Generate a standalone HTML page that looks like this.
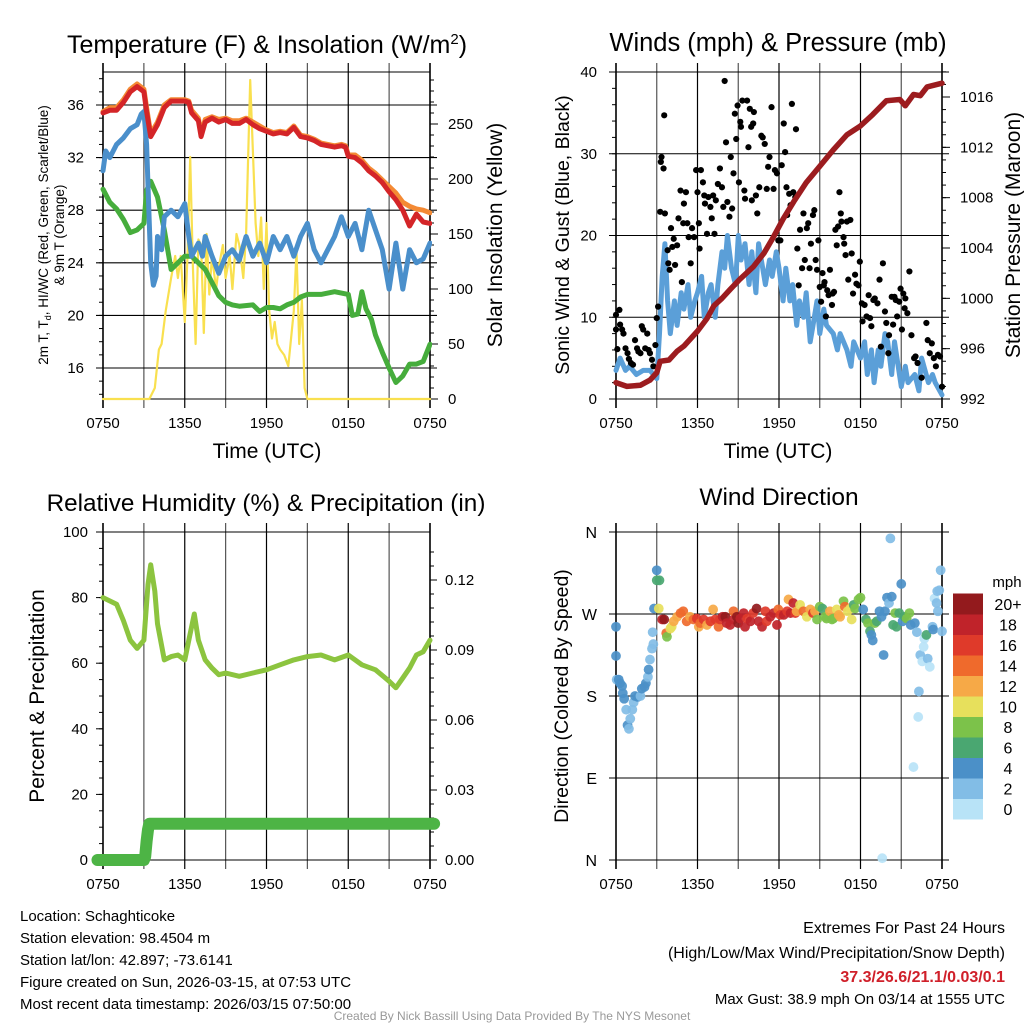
<!DOCTYPE html>
<html><head><meta charset="utf-8"><style>
html,body{margin:0;padding:0;background:#fff}
svg{display:block;font-family:"Liberation Sans",Arial,sans-serif}
</style></head><body>
<svg id="svg" width="1024" height="1024" viewBox="0 0 1024 1024" xmlns="http://www.w3.org/2000/svg">
<rect width="1024" height="1024" fill="#fff"/>
<g id="g1"></g>
<g id="g2"></g>
<g id="g3"></g>
<g id="g4"></g>
<text x="267" y="53" font-size="25" text-anchor="middle">Temperature (F) &amp; Insolation (W/m<tspan dy="-9" font-size="15">2</tspan><tspan dy="9">)</tspan></text>
<text x="778" y="51" font-size="25.5" text-anchor="middle">Winds (mph) &amp; Pressure (mb)</text>
<text x="266" y="511" font-size="24.3" text-anchor="middle">Relative Humidity (%) &amp; Precipitation (in)</text>
<text x="779" y="505" font-size="24.5" text-anchor="middle">Wind Direction</text>
<g font-size="15">
<text x="20" y="921">Location: Schaghticoke</text>
<text x="20" y="943">Station elevation: 98.4504 m</text>
<text x="20" y="965">Station lat/lon: 42.897; -73.6141</text>
<text x="20" y="987">Figure created on Sun, 2026-03-15, at 07:53 UTC</text>
<text x="20" y="1009">Most recent data timestamp: 2026/03/15 07:50:00</text>
</g>
<g font-size="16" text-anchor="end">
<text x="1005" y="933">Extremes For Past 24 Hours</text>
<text x="1005" y="958">(High/Low/Max Wind/Precipitation/Snow Depth)</text>
<text x="1005" y="982" fill="#d0202a" font-weight="bold">37.3/26.6/21.1/0.03/0.1</text>
<text x="1005" y="1004" font-size="15">Max Gust: 38.9 mph On 03/14 at 1555 UTC</text>
</g>
<text x="512" y="1020" font-size="12" fill="#999" text-anchor="middle">Created By Nick Bassill Using Data Provided By The NYS Mesonet</text>
</svg>
<script>
// ---- Temperature panel data (hours since 0750 UTC) ----
const tempHours=[0,0.5,1,1.5,2,2.5,3,3.2,3.5,4,4.5,5,6,6.3,6.5,7,7.2,7.5,8,8.5,9,9.5,10,10.5,11,11.5,12,12.5,13,13.5,14,14.5,15,15.5,16,17,17.5,17.8,18,18.5,19,19.5,20,20.5,21,21.5,22,22.5,23,23.5,24];
const tempValues=[35.4,35.6,35.6,36.2,37.0,37.4,37.0,35.5,33.6,34.5,35.8,36.3,36.3,36.2,35.4,34.8,33.6,34.7,35.0,34.7,34.9,34.6,34.6,34.9,34.5,34.2,34.0,33.8,33.9,33.8,34.3,33.6,33.5,33.3,33.0,32.8,32.9,32.8,32.1,32.0,31.6,31.0,30.6,30.1,29.4,28.8,28.0,26.8,27.7,27.1,27.0];
const temp9mValues=[35.5,35.8,35.8,36.4,37.2,37.6,37.2,35.8,33.8,34.7,36.0,36.4,36.4,36.3,35.6,35.0,33.8,34.9,35.1,34.9,35.0,34.8,34.8,35.0,34.7,34.4,34.1,33.9,34.0,33.9,34.4,33.7,33.6,33.4,33.1,32.9,33.0,32.9,32.2,32.2,31.8,31.2,30.8,30.3,29.8,29.3,28.6,28.3,28.1,28.0,27.8];
const chillHours=[0,0.2,0.5,1,1.5,2,2.5,2.8,3,3.2,3.4,3.5,3.7,3.9,4,4.3,4.5,5,5.5,6,6.3,6.5,7,7.3,7.5,8,8.5,9,9.5,10,10.5,11,11.5,12,12.5,13,13.5,14,14.5,15,15.5,16,16.5,17,17.5,18,18.5,19,19.5,20,20.5,21,21.5,22,22.5,23,23.5,24];
const chillValues=[31.0,32.5,32.0,33.0,33.5,34.2,34.5,35.3,35.5,33,27,24,22.3,23,26,25,27.5,28,27.5,28.5,26,24.5,25.5,24.5,26,24.5,23.2,24.5,25,24.2,26,24.5,25.5,24,26,25,26,24.5,26,27,25,24,25,26,27.5,26,27,25,28,26.5,25,22,25.5,22,25,24,24.3,25.5];
const dewHours=[0,0.5,1,1.5,2,2.5,3,3.2,3.5,4,4.5,5,5.5,6,6.5,7,7.5,8,8.5,9,9.5,10,11,11.5,12,12.5,13,13.5,14,14.5,15,16,17,18,18.3,18.7,19,19.3,19.7,20,20.5,21,21.5,22,22.5,23,23.5,24];
const dewValues=[29.6,28.6,28.1,27.3,26.3,26.5,27,29.5,30.2,29,26.5,23.5,24,24.5,24.5,24,23.5,22.5,21.5,21,20.8,20.7,20.8,20.3,20.6,20.6,20.5,20.8,21,21.4,21.6,21.6,21.8,21.6,20.0,20.1,21.8,20.5,19.7,18.5,17.2,16,14.9,15.4,16.3,16.3,16.5,17.8];
const solarHours=[0,3.4,3.8,4.1,4.3,4.6,5,5.3,5.5,5.7,6,6.2,6.4,6.6,6.8,7,7.2,7.4,7.6,7.8,8,8.3,8.5,8.8,9,9.3,9.5,9.8,10,10.3,10.5,10.8,11,11.2,11.4,11.6,11.8,12,12.2,12.4,12.6,12.8,13,13.3,13.6,14,14.2,14.4,14.6,14.8,15,24];
const solarValues=[0,0,10,45,50,80,110,130,110,130,70,130,220,120,50,145,140,60,150,95,130,100,120,140,110,130,100,150,140,110,150,290,225,160,130,165,100,160,80,55,70,50,45,40,30,80,135,50,90,10,0,0];
const tempTicks=[16,20,24,28,32,36];
const solarTicks=[0,50,100,150,200,250];
const timeTickLabels=["0750","1350","1950","0150","0750"];
// ---- Winds panel data ----
const windHours=[0,0.3,0.7,1,1.5,2,2.5,3,3.2,3.4,3.6,3.8,4,4.3,4.5,4.8,5,5.3,5.5,5.8,6,6.3,6.5,6.8,7,7.3,7.5,7.8,8,8.2,8.5,8.8,9,9.2,9.5,9.8,10,10.3,10.5,10.8,11,11.3,11.5,11.8,12,12.3,12.5,12.8,13,13.3,13.5,13.8,14,14.3,14.5,14.8,15,15.3,15.5,16,16.3,16.5,17,17.3,17.5,18,18.3,18.5,18.8,19,19.3,19.5,19.8,20,20.3,20.5,21,21.3,21.5,22,22.3,22.5,23,23.3,23.5,24];
const windValues=[3.5,5,3.5,4,3,3.5,3.5,2.5,8,15,19,12,8,12,9,13,11,14,10,12,13,15,10,13,14,10,14,18,16,20,16,14,20,17,19,14,18,13,19,16,14,17,15,18,16,12,16,12,14,9,12,10,13,7,9,12,8,11,9,8,6,8,6,4,7,5,7,3,6,2,6,4,8,7,3,7,1.5,4,2,3,1,5,2,3,2,0.5];
const gustHours=[0,0,0.25,0.1,0.3,0.45,0.55,0.7,0.85,0.95,1.1,1.25,1.4,1.55,1.65,1.8,1.9,2.0,2.15,2.3,2.4,2.5,2.65,2.75,2.9,3.0,3.1,3.25,3.3,3.35,3.5,3.55,3.6,3.8,3.85,3.95,4.05,4.15,4.25,4.35,4.5,4.6,4.75,4.85,4.95,5.0,5.15,5.25,5.35,5.5,5.6,5.75,5.9,6.0,6.1,6.15,6.25,6.4,6.5,6.55,6.7,6.8,6.95,7.05,7.15,7.25,7.35,7.5,7.65,7.8,7.9,8.0,8.1,8.2,8.35,8.45,8.55,8.65,8.75,8.85,8.95,9.05,9.15,9.2,9.3,9.45,9.5,9.65,9.75,9.85,9.95,10.0,10.1,10.15,10.3,10.4,10.55,10.7,10.8,10.95,11.1,11.2,11.3,11.45,11.6,11.7,11.85,11.95,12.1,12.2,12.35,12.45,12.55,12.6,12.75,12.85,12.95,13.05,13.2,13.25,13.35,13.45,13.55,13.7,13.8,13.9,14.05,14.15,14.25,14.35,14.5,14.6,14.7,14.8,14.9,15.0,15.1,15.2,15.3,15.35,15.45,15.55,15.65,15.75,15.9,15.95,16.05,16.15,16.25,16.35,16.45,16.55,16.6,16.75,16.8,16.9,17.0,17.1,17.25,17.35,17.45,17.6,17.7,17.85,17.95,18.1,18.15,18.3,18.45,18.6,18.7,18.8,18.95,19.05,19.25,19.4,19.5,19.65,19.8,19.9,20.05,20.1,20.3,20.4,20.5,20.6,20.7,20.85,20.95,21.05,21.15,21.25,21.3,21.45,21.6,21.75,21.95,22.05,22.2,22.5,22.85,22.95,23.1,23.25,23.4,23.55,23.7,23.85,24.0];
const gustValues=[8.5,10.3,10.9,6.1,9.1,8.5,8.0,6.2,5.6,4.9,4.4,4.2,7.2,6.2,5.8,5.6,8.9,8.5,6.2,8.0,6.0,5.6,4.8,4.0,6.6,9.9,11.3,22.9,29.0,29.6,28.2,34.7,22.7,18.2,16.6,15.8,20.9,18.6,19.6,16.4,18.8,22.1,25.5,14.3,21.5,23.9,25.3,21.5,19.8,16.6,20.9,19.8,28.0,25.3,21.5,18.4,28.0,26.5,24.9,23.9,20.2,24.7,23.5,22.1,24.9,20.2,24.3,26.3,28.2,25.9,23.5,38.9,31.4,24.1,22.3,29.6,23.3,27.6,34.9,31.8,35.9,26.5,33.9,33.3,36.5,25.5,24.5,36.5,30.8,35.5,33.3,24.3,33.7,35.1,24.9,22.7,25.9,32.2,32.0,31.2,25.7,28.4,29.6,35.7,25.7,28.0,27.6,19.4,19.4,28.6,33.7,30.2,25.9,22.5,25.1,23.7,36.1,25.3,24.7,33.0,18.4,13.9,20.7,16.0,22.7,17.0,20.9,21.5,16.0,19.0,22.5,23.1,17.0,15.8,19.4,13.7,11.9,15.4,13.9,14.3,10.1,13.3,12.7,15.8,11.5,12.9,13.1,20.7,18.8,21.1,25.3,22.7,21.7,19.8,19.0,17.6,21.7,14.6,21.9,17.8,12.9,15.2,14.1,13.9,16.8,11.7,9.5,11.5,10.1,12.7,9.9,8.9,12.1,12.3,11.7,14.6,6.4,16.6,10.7,9.3,5.6,7.8,12.5,9.1,12.5,12.1,10.1,11.9,13.5,8.5,12.9,11.1,12.3,10.5,15.6,7.8,5.0,5.2,4.4,2.6,9.3,7.2,5.6,6.8,5.0,4.0,5.4,5.2,1.5];
const pressureHours=[0,0.8,1.8,2.5,3,3.25,3.9,4.5,5,6,6.7,7.2,7.8,8.4,9.1,10.1,10.9,11.6,12.3,13.1,14.0,15.0,16.0,17.0,18.0,18.9,19.9,20.9,21.3,21.9,22.4,22.9,24];
const pressureValues=[993.3,993.0,993.1,993.5,994.1,995.0,995.1,995.8,996.2,997.4,998.4,999.4,1000.0,1000.7,1001.5,1002.5,1003.6,1004.9,1006.3,1007.7,1009.2,1010.5,1011.8,1013.0,1013.7,1014.6,1015.7,1015.8,1015.3,1016.2,1016.1,1016.8,1017.1];
const windTicks=[0,10,20,30,40];
const pressureTicks=[992,996,1000,1004,1008,1012,1016];
// ---- Humidity panel data ----
const rhHours=[0,1,1.5,2,2.5,3,3.3,3.5,3.8,4,4.5,5,5.5,6,6.3,6.7,7,7.5,8,8.5,9,10,11,12,13,14,15,16,17,18,19,20,21,21.5,22,22.5,23,23.5,24];
const rhValues=[80,78,73,67,64.5,67,84,90,82,72,61,62,62.5,61,67,75,67,61,58.5,56.5,57,56,57,58,59.5,61,62,62.5,61,62.5,59.5,58,54.5,52.5,55.5,58.5,62.5,63.5,67];
const precipHours=[-0.4,3.0,3.1,3.2,3.3,3.4,24.3];
const precipValues=[0,0,0.0015,0.008,0.013,0.0155,0.0155];
const rhTicks=[0,20,40,60,80,100];
const precipTicks=["0.00","0.03","0.06","0.09","0.12"];
// ---- Wind direction data ----
const dirHours=[0,0,0.05,0.2,0.3,0.45,0.5,0.6,0.75,0.85,0.95,1.05,1.2,1.3,1.4,1.6,1.8,1.9,2.1,2.2,2.35,2.4,2.5,2.65,2.75,2.7,2.8,3.0,3.0,3.2,3.15,3.4,3.55,3.7,3.75,4.0,4.1,4.25,4.5,4.75,4.95,5.2,5.45,5.7,5.95,6.1,6.2,6.45,6.7,6.95,7.15,7.3,7.55,7.65,7.85,8.05,8.15,8.4,8.65,8.65,8.9,9.0,9.15,9.4,9.5,9.65,9.9,10.1,10.35,10.5,10.75,11.0,11.1,11.35,11.6,11.85,11.95,12.1,12.35,12.6,12.7,12.85,13.05,13.2,13.3,13.55,13.8,14.05,14.3,14.5,14.65,14.8,15.0,15.2,15.4,15.5,15.75,15.9,16.0,16.25,16.4,16.5,16.75,16.85,17.05,17.25,17.35,17.5,17.6,17.85,18.0,18.2,18.4,18.55,18.7,18.8,18.9,19.05,19.2,19.4,19.55,19.7,19.6,19.8,19.95,20.1,20.2,20.3,20.4,20.55,20.65,20.85,21.0,21.1,21.25,21.4,21.6,21.7,21.9,22.0,22.15,22.25,22.3,22.4,22.55,22.65,22.7,22.85,22.95,23.1,23.3,23.35,23.45,23.6,23.65,23.8,23.7,23.9,24.0];
const dirDegrees=[256,224,198,198,194,191,183,177,165,148,144,155,165,173,180,179,180,188,190,194,201,209,220,232,237,250,276,318,307,307,276,264,264,249,245,254,256,262,267,271,273,262,267,264,265,256,260,264,258,262,275,264,256,264,267,267,260,258,264,273,267,260,265,271,256,265,262,271,276,262,256,273,262,267,271,258,275,269,269,273,286,271,282,271,273,280,273,267,275,271,273,264,278,276,267,265,273,264,265,275,269,267,284,278,273,276,264,280,276,286,288,275,264,260,251,247,241,260,262,273,267,225,2,273,288,282,353,289,258,271,256,271,303,262,267,265,271,258,102,260,250,157,185,225,218,234,243,247,221,212,256,253,287,282,295,296,273,318,251];
const dirSpeeds=[4,4,3,4,4,4,4,4,3,4,2,2,2,2,4,4,2,4,4,4,2,4,2,2,2,2,4,4,6,6,10,18,20,14,8,10,10,12,12,14,14,14,12,14,16,12,14,16,12,16,12,16,14,16,18,20,18,18,18,14,20,20,18,18,18,16,18,16,20,18,18,16,16,18,18,18,14,16,18,16,12,18,18,16,12,10,14,10,12,16,12,8,8,6,8,8,12,8,8,10,12,12,8,14,10,10,10,6,8,8,8,4,6,8,6,4,4,8,6,4,4,4,0,4,4,2,2,4,6,8,6,6,4,4,6,8,8,4,0,4,2,0,2,2,0,0,0,6,2,0,2,4,0,2,2,2,2,2,2];
const dirTickLabels=["N","E","S","W","N"];
const speedLabels=["0","2","4","6","8","10","12","14","16","18","20+"];
const speedColors=["#b8e3f7","#82bde6","#4b90c8","#4aa771","#7cc24a","#e7e05c","#f6a947","#ef6a2c","#df3a2a","#c0232a","#931a1d"];

const NS="http://www.w3.org/2000/svg";
function mk(parent,tag,attrs,name,txt){
  const e=document.createElementNS(NS,tag);
  for(const k in attrs)e.setAttribute(k,attrs[k]);
  
  
  if(txt!==undefined)e.textContent=txt;
  parent.appendChild(e);return e;
}
function lin(d0,d1,r0,r1){return v=>r0+(v-d0)/(d1-d0)*(r1-r0);}
function frame(g,x0,x1,y0,y1,hVals,yfn){
  const xs=lin(0,24,x0,x1);
  for(let h=0;h<=24;h+=3){
    mk(g,'line',{x1:xs(h),x2:xs(h),y1:y0-9,y2:y1+9,stroke:(h%6===0)?'#000':'#555','stroke-width':(h===0||h===24)?1.6:1.2},'x-gridline');
  }
  hVals.forEach(v=>{mk(g,'line',{x1:x0-7,x2:x1+7,y1:yfn(v),y2:yfn(v),stroke:'#000','stroke-width':1.1},'y-gridline');});
  mk(g,'rect',{x:x0,y:y0,width:x1-x0,height:y1-y0,fill:'none',stroke:'#000','stroke-width':1},'plot-frame');
  timeTickLabels.forEach((t,i)=>{mk(g,'text',{x:xs(i*6),y:y1+29,'font-size':15,'text-anchor':'middle'},'x-tick-label',t);});
  return xs;
}
function path(g,xs,ys,hs,vs,style,name){
  let d='';hs.forEach((h,i)=>{d+=(i?'L':'M')+xs(h).toFixed(1)+','+ys(vs[i]).toFixed(1);});
  return mk(g,'path',Object.assign({d:d,fill:'none','stroke-linejoin':'round','stroke-linecap':'round'},style),name);
}
function minorTicks(g,x,yfn,from,to,step,dir,name){
  for(let v=from;v<=to+1e-9;v+=step){mk(g,'line',{x1:x,x2:x+dir,y1:yfn(v),y2:yfn(v),stroke:'#000','stroke-width':1},name);}
}
// ===== Panel 1 =====
(function(){
  const g=document.getElementById('g1');
  const x0=103,x1=430,y0=72,y1=399;
  const yT=lin(36,16,105,368), yS=lin(0,250,399,124);
  const xs=frame(g,x0,x1,y0,y1,tempTicks,yT);
  minorTicks(g,x0,yT,14,38,1,-4,'left-minor-tick');
  minorTicks(g,x1,yS,0,290,10,4,'right-minor-tick');
  solarTicks.forEach(v=>{mk(g,'line',{x1:x1,x2:x1+8,y1:yS(v),y2:yS(v),stroke:'#000'},'right-tick');mk(g,'text',{x:x1+18,y:yS(v)+5,'font-size':15},'right-tick-label',v);});
  tempTicks.forEach(v=>{mk(g,'text',{x:x0-19,y:yT(v)+5,'font-size':15,'text-anchor':'end'},'left-tick-label',v);});
  const cp=mk(g,'clipPath',{id:'c1'},'clip');mk(cp,'rect',{x:x0-6,y:y0,width:x1-x0+8,height:y1-y0+3},'clip-rect');
  const s=mk(g,'g',{'clip-path':'url(#c1)'},'series-group');
  path(s,xs,yS,solarHours,solarValues,{stroke:'#f9e04f','stroke-width':2.2},'solar-insolation-line');
  path(s,xs,yT,dewHours,dewValues,{stroke:'#46ad3c','stroke-width':5},'dewpoint-line');
  path(s,xs,yT,chillHours,chillValues,{stroke:'#4a8fcb','stroke-width':5},'wind-chill-line');
  path(s,xs,yT,tempHours,temp9mValues,{stroke:'#f48a34','stroke-width':5},'temp-9m-line');
  path(s,xs,yT,tempHours,tempValues,{stroke:'#d42528','stroke-width':5},'temp-2m-line');
  mk(g,'text',{x:267,y:458,'font-size':21,'text-anchor':'middle'},'x-axis-title','Time (UTC)');
  const t1=mk(g,'text',{transform:'translate(48,235) rotate(-90)','font-size':13.5,'text-anchor':'middle'},'y-axis-title');
  t1.innerHTML='2m T, T<tspan font-size="9" dy="3">d</tspan><tspan dy="-3">, HI/WC (Red, Green, Scarlet/Blue)</tspan>';
  mk(g,'text',{transform:'translate(64,235) rotate(-90)','font-size':13.5,'text-anchor':'middle'},'y-axis-title-line2','& 9m T (Orange)');
  mk(g,'text',{transform:'translate(502,235) rotate(-90)','font-size':21,'text-anchor':'middle'},'right-axis-title','Solar Insolation (Yellow)');
})();
// ===== Panel 2 =====
(function(){
  const g=document.getElementById('g2');
  const x0=616,x1=942,y0=72,y1=399;
  const yW=lin(0,40,399,72), yP=lin(992,1016,399,97);
  const xs=frame(g,x0,x1,y0,y1,windTicks,yW);
  minorTicks(g,x0,yW,0,40,2,-4,'left-minor-tick');
  minorTicks(g,x1,yP,992,1018,1,4,'right-minor-tick');
  pressureTicks.forEach(v=>{mk(g,'line',{x1:x1,x2:x1+8,y1:yP(v),y2:yP(v),stroke:'#000'},'right-tick');mk(g,'text',{x:x1+18,y:yP(v)+5,'font-size':15},'right-tick-label',v);});
  windTicks.forEach(v=>{mk(g,'text',{x:x0-19,y:yW(v)+5,'font-size':15,'text-anchor':'end'},'left-tick-label',v);});
  const cp=mk(g,'clipPath',{id:'c2'},'clip');mk(cp,'rect',{x:x0-6,y:y0-4,width:x1-x0+12,height:y1-y0+6},'clip-rect');
  const s=mk(g,'g',{'clip-path':'url(#c2)'},'series-group');
  path(s,xs,yW,windHours,windValues,{stroke:'#5b9fd8','stroke-width':5},'sonic-wind-line');
  gustHours.forEach((h,i)=>{
    mk(s,'circle',{cx:xs(h),cy:yW(gustValues[i]),r:3.1,fill:'#000'},'gust-point');
  });
  path(s,xs,yP,pressureHours,pressureValues,{stroke:'#9c1c1f','stroke-width':5.5},'pressure-line');
  mk(g,'text',{x:778,y:458,'font-size':21,'text-anchor':'middle'},'x-axis-title','Time (UTC)');
  mk(g,'text',{transform:'translate(569,235) rotate(-90)','font-size':19.5,'text-anchor':'middle'},'y-axis-title','Sonic Wind & Gust (Blue, Black)');
  mk(g,'text',{transform:'translate(1020,235) rotate(-90)','font-size':21,'text-anchor':'middle'},'right-axis-title','Station Pressure (Maroon)');
})();
// ===== Panel 3 =====
(function(){
  const g=document.getElementById('g3');
  const x0=103,x1=430,y0=532,y1=860;
  const yR=lin(0,100,860,532), yPr=lin(0,0.03,860,790);
  const xs=frame(g,x0,x1,y0,y1,[],yR);
  rhTicks.forEach(v=>{mk(g,'line',{x1:x0-7,x2:x0,y1:yR(v),y2:yR(v),stroke:'#000'},'left-tick');mk(g,'text',{x:x0-15,y:yR(v)+5,'font-size':15,'text-anchor':'end'},'left-tick-label',v);});
  minorTicks(g,x0,yR,0,100,5,-4,'left-minor-tick');
  precipTicks.forEach(t=>{const v=parseFloat(t);mk(g,'line',{x1:x1,x2:x1+7,y1:yPr(v),y2:yPr(v),stroke:'#000'},'right-tick');mk(g,'text',{x:x1+15,y:yPr(v)+5,'font-size':15},'right-tick-label',t);});
  minorTicks(g,x1,yPr,0,0.135,0.006,4,'right-minor-tick');
  path(g,xs,yR,rhHours,rhValues,{stroke:'#8cc43f','stroke-width':5},'relative-humidity-line');
  path(g,xs,yPr,precipHours,precipValues,{stroke:'#4db445','stroke-width':12},'precipitation-line');
  mk(g,'text',{transform:'translate(44,696) rotate(-90)','font-size':21,'text-anchor':'middle'},'y-axis-title','Percent & Precipitation');
})();
// ===== Panel 4 =====
(function(){
  const g=document.getElementById('g4');
  const x0=616,x1=942,y0=532,y1=860;
  const yD=lin(0,360,860,532);
  const xs=frame(g,x0,x1,y0,y1,[0,90,180,270,360],yD);
  dirTickLabels.forEach((t,i)=>{mk(g,'text',{x:x0-19,y:yD(i*90)+6,'font-size':16,'text-anchor':'end'},'direction-tick-label',t);});
  const s=mk(g,'g',{},'direction-points');
  dirHours.forEach((h,i)=>{
    const bin=Math.min(10,Math.floor(dirSpeeds[i]/2));
    mk(s,'circle',{cx:xs(h),cy:yD(dirDegrees[i]),r:4.9,fill:speedColors[bin],'fill-opacity':0.92},'direction-point');
  });
  mk(g,'text',{transform:'translate(568,696) rotate(-90)','font-size':19.5,'text-anchor':'middle'},'y-axis-title','Direction (Colored By Speed)');
  const bh=20.5;
  speedColors.forEach((col,i)=>{
    const yy=819-(i+1)*bh;
    mk(g,'rect',{x:953,y:yy,width:30,height:bh+0.5,fill:col},'colorbar-bin');
    mk(g,'text',{x:1008,y:yy+bh/2+6,'font-size':16,'text-anchor':'middle'},'colorbar-label',speedLabels[i]);
  });
  mk(g,'text',{x:1007,y:587,'font-size':15,'text-anchor':'middle'},'colorbar-title','mph');
})();
</script>
</body></html>
